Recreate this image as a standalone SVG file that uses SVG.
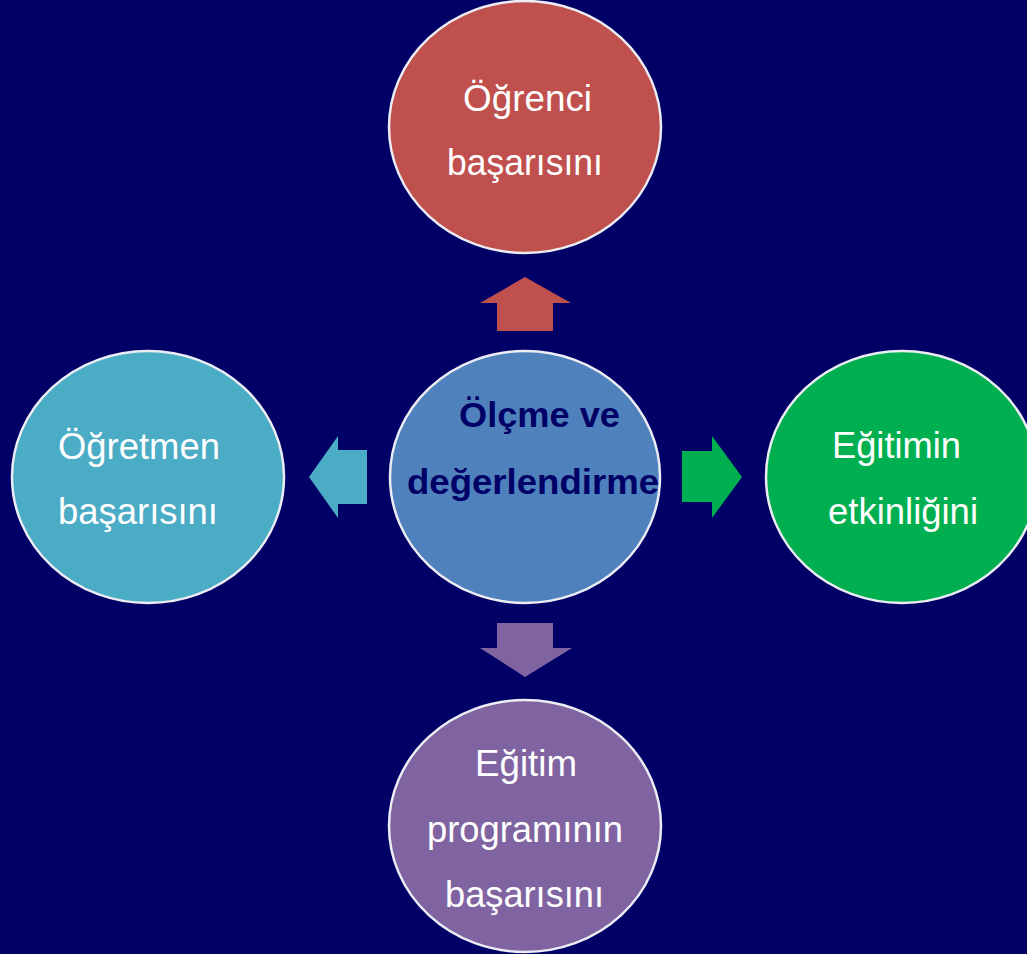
<svg xmlns="http://www.w3.org/2000/svg" width="1027" height="954" viewBox="0 0 1027 954">
<style>
.c{stroke:#ECECF4;stroke-width:2.5}
.t{font-family:"Liberation Sans",Arial,sans-serif;font-size:36px;fill:#FFFFFF}
.b{font-family:"Liberation Sans",Arial,sans-serif;font-size:35px;font-weight:bold;fill:#000066}
</style>
<rect width="1027" height="954" fill="#000066"/>
<g id="connectors">
<polygon points="525,277 571,303 553,303 553,331 497,331 497,303 480,303" fill="#C0504D"/>
<polygon points="742,477 712,518 712,502 682,502 682,451 712,451 712,436" fill="#00B050"/>
<polygon points="525,677 572,648 553,648 553,623 497,623 497,648 480,648" fill="#8064A2"/>
<polygon points="309,477 338,436 338,450 367,450 367,504 338,504 338,518" fill="#4BACC6"/>
</g>
<g id="ogrenci">
<ellipse class="c" cx="525" cy="127" rx="136" ry="126" fill="#C0504D"/>
<text class="t" x="463" y="111" textLength="129" lengthAdjust="spacingAndGlyphs">Öğrenci</text>
<text class="t" x="447" y="175" textLength="156" lengthAdjust="spacingAndGlyphs">başarısını</text>
</g>
<g id="ogretmen">
<ellipse class="c" cx="148" cy="477" rx="136" ry="126" fill="#4BACC6"/>
<text class="t" x="58" y="459" textLength="162" lengthAdjust="spacingAndGlyphs">Öğretmen</text>
<text class="t" x="58" y="524" textLength="160" lengthAdjust="spacingAndGlyphs">başarısını</text>
</g>
<g id="egitimin">
<ellipse class="c" cx="902" cy="477" rx="136" ry="126" fill="#00B050"/>
<text class="t" x="832" y="458" textLength="129" lengthAdjust="spacingAndGlyphs">Eğitimin</text>
<text class="t" x="828" y="524" textLength="150" lengthAdjust="spacingAndGlyphs">etkinliğini</text>
</g>
<g id="program">
<ellipse class="c" cx="525" cy="826" rx="136" ry="126" fill="#8064A2"/>
<text class="t" x="475" y="776" textLength="102" lengthAdjust="spacingAndGlyphs">Eğitim</text>
<text class="t" x="427" y="842" textLength="196" lengthAdjust="spacingAndGlyphs">programının</text>
<text class="t" x="445" y="907" textLength="159" lengthAdjust="spacingAndGlyphs">başarısını</text>
</g>
<g id="olcme">
<ellipse class="c" cx="525" cy="477" rx="135" ry="126" fill="#4F81BD"/>
<text class="b" x="459" y="427" textLength="161" lengthAdjust="spacingAndGlyphs">Ölçme ve</text>
<text class="b" x="407" y="494" textLength="252" lengthAdjust="spacingAndGlyphs">değerlendirme</text>
</g>
</svg>
